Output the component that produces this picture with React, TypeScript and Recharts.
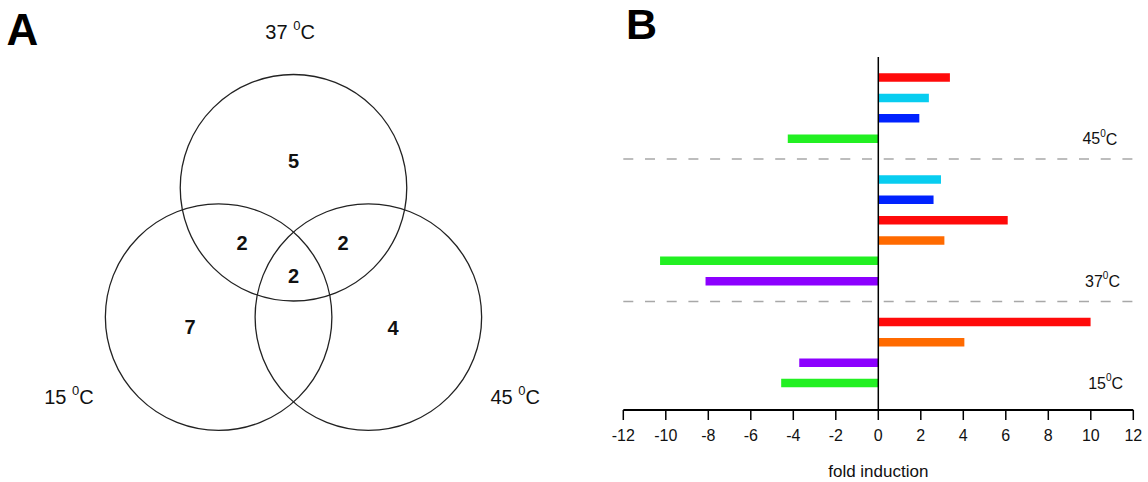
import React from 'react';
import {
  BarChart,
  Bar,
  Cell,
  XAxis,
  YAxis,
  ReferenceLine,
  ReferenceDot,
  ScatterChart,
  Scatter,
} from 'recharts';

// Panel A: Venn diagram, positions in units of one circle radius
const vennSets = [
  { temp: '37', x: 0, y: 0.761 },
  { temp: '15', x: -0.661, y: -0.38 },
  { temp: '45', x: 0.661, y: -0.38 },
];
const vennCounts = [
  { count: 5, x: 0, y: 1.0 },
  { count: 2, x: -0.455, y: 0.27 },
  { count: 2, x: 0.437, y: 0.27 },
  { count: 2, x: 0, y: -0.02 },
  { count: 7, x: -0.913, y: -0.466 },
  { count: 4, x: 0.878, y: -0.475 },
];
const vennLabels = [
  { temp: '37', x: -0.03, y: 2.135 },
  { temp: '15', x: -1.982, y: -1.084 },
  { temp: '45', x: 1.957, y: -1.084 },
];

// Panel B: fold induction per gene, grouped by temperature
const rows = [
  '45-1', '45-2', '45-3', '45-4', 'sep-45',
  '37-1', '37-2', '37-3', '37-4', '37-5', '37-6', 'sep-37',
  '15-1', '15-2', '15-3', '15-4',
];
const foldValues = [
  3.37, 2.38, 1.93, -4.26, null,
  2.95, 2.6, 6.09, 3.11, -10.27, -8.13, null,
  9.99, 4.05, -3.72, -4.57,
];
const barColors = [
  '#ff0a0a', '#08cdf0', '#0022ff', '#22f022', 'none',
  '#08cdf0', '#0022ff', '#ff0a0a', '#ff6a00', '#22f022', '#8c00ff', 'none',
  '#ff0a0a', '#ff6a00', '#8c00ff', '#22f022',
];
const separators = ['sep-45', 'sep-37'];
const groupLabels = [
  { temp: '45', row: '45-4', x: 10.43 },
  { temp: '37', row: '37-6', x: 10.55 },
  { temp: '15', row: '15-4', x: 10.7 },
];
const xTicks = [-12, -10, -8, -6, -4, -2, 0, 2, 4, 6, 8, 10, 12];

const barData = rows.map((row, i) => ({ row, fold: foldValues[i] }));

const VENN_X: [number, number] = [-2.6, 2.6];
const VENN_Y: [number, number] = [-1.8, 2.4];
const VENN_W = 589;
const VENN_H = 476;
const UNIT_PX = VENN_W / (VENN_X[1] - VENN_X[0]);

const FONT = '"Liberation Sans", Arial, Helvetica, sans-serif';

function VennPanel() {
  return (
    <ScatterChart
      width={VENN_W}
      height={VENN_H}
      margin={{ top: 0, right: 0, bottom: 0, left: 0 }}
    >
      <XAxis type="number" dataKey="x" domain={VENN_X} allowDataOverflow hide />
      <YAxis type="number" dataKey="y" domain={VENN_Y} allowDataOverflow hide />
      <Scatter
        data={vennSets}
        isAnimationActive={false}
        shape={(p: any) => (
          <circle cx={p.cx} cy={p.cy} r={UNIT_PX} fill="none" stroke="#222" strokeWidth={1.3} />
        )}
      />
      <Scatter
        data={vennCounts}
        isAnimationActive={false}
        shape={(p: any) => (
          <text
            x={p.cx}
            y={p.cy}
            textAnchor="middle"
            dominantBaseline="central"
            fontSize={20}
            fontWeight="bold"
            fill="#111"
          >
            {p.payload.count}
          </text>
        )}
      />
      <Scatter
        data={vennLabels}
        isAnimationActive={false}
        shape={(p: any) => (
          <text
            x={p.cx}
            y={p.cy}
            textAnchor="middle"
            dominantBaseline="central"
            fontSize={20}
            fill="#111"
          >
            {p.payload.temp + ' '}
            <tspan fontSize={13} dy={-7}>0</tspan>
            <tspan dy={7}>C</tspan>
          </text>
        )}
      />
    </ScatterChart>
  );
}

function FoldPanel() {
  return (
    <BarChart
      layout="vertical"
      width={548}
      height={482}
      data={barData}
      margin={{ top: 57, right: 14.7, bottom: 0, left: 23.3 }}
      barSize={8.5}
    >
      <XAxis
        type="number"
        domain={[-12, 12]}
        ticks={xTicks}
        interval={0}
        height={72}
        axisLine={{ stroke: '#000', strokeWidth: 2 }}
        tickLine={{ stroke: '#000', strokeWidth: 1.5 }}
        tickSize={10}
        tickMargin={10}
        tick={{ fill: '#111', fontSize: 16 }}
        label={{ value: 'fold induction', position: 'insideBottom', offset: 5, fill: '#111', fontSize: 17 }}
      />
      <YAxis type="category" dataKey="row" hide padding={{ top: 10.3, bottom: 16.8 }} />
      {separators.map((s) => (
        <ReferenceLine key={s} y={s} stroke="#a8a8a8" strokeWidth={1.5} strokeDasharray="10 11.7" />
      ))}
      <Bar dataKey="fold" isAnimationActive={false}>
        {barData.map((d, i) => (
          <Cell key={d.row} fill={barColors[i]} />
        ))}
      </Bar>
      <ReferenceLine x={0} stroke="#000" strokeWidth={1.5} />
      {groupLabels.map((g) => (
        <ReferenceDot
          key={g.temp}
          x={g.x}
          y={g.row}
          r={0}
          shape={(p: any) => (
            <text
              x={p.cx}
              y={p.cy}
              textAnchor="middle"
              dominantBaseline="central"
              fontSize={16}
              fill="#111"
            >
              {g.temp}
              <tspan fontSize={10} dy={-6}>0</tspan>
              <tspan dy={6}>C</tspan>
            </text>
          )}
        />
      ))}
    </BarChart>
  );
}

export default function App() {
  return (
    <div
      style={{
        position: 'absolute',
        left: 0,
        top: 0,
        width: 1148,
        height: 482,
        background: '#fff',
        fontFamily: FONT,
        overflow: 'hidden',
      }}
    >
      <div style={{ position: 'absolute', left: 6.5, top: 7.8, fontSize: 44, fontWeight: 'bold', lineHeight: 1 }}>
        A
      </div>
      <div style={{ position: 'absolute', left: 626, top: 0, fontSize: 43, fontWeight: 'bold', lineHeight: 'normal' }}>
        B
      </div>
      <div style={{ position: 'absolute', left: -1.5, top: 2 }}>
        <VennPanel />
      </div>
      <div style={{ position: 'absolute', left: 600, top: 0 }}>
        <FoldPanel />
      </div>
    </div>
  );
}
